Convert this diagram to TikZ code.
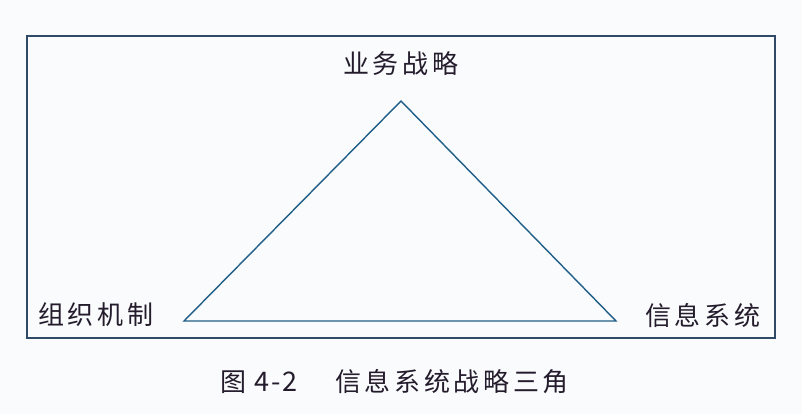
\documentclass[tikz,border=0pt]{standalone}
\usepackage{fontspec}
\newfontfamily\cjk[LetterSpace=14]{Noto Sans CJK SC}
\newfontfamily\cjknum[LetterSpace=8]{Noto Sans CJK SC}
\definecolor{bgc}{HTML}{FAFBFD}
\definecolor{boxc}{HTML}{2F4B68}
\definecolor{tric}{HTML}{1F5E86}
\definecolor{txtc}{HTML}{241C2C}
\begin{document}
\begin{tikzpicture}[x=1pt,y=-1pt,
  lbl/.style={font=\cjk\fontsize{26}{26}\selectfont, text=txtc, inner sep=0pt},
  captxt/.style={font=\cjk\fontsize{26}{26}\selectfont, text=txtc, inner sep=0pt}]
\fill[bgc] (0,0) rectangle (802,414);
\useasboundingbox (0,0) rectangle (802,414);
\draw[boxc, line width=1.4pt] (27,36) rectangle (775,338);
\coordinate (top) at (401,101);
\coordinate (lft) at (184,321);
\coordinate (rgt) at (616,321);
\draw[tric, line width=1.4pt, line join=miter] (top) -- (lft) -- (rgt) -- cycle;
\node[lbl, anchor=west] (biz) at (343,64) {业务战略};
\node[lbl, anchor=west] (org) at (38,315) {组织机制};
\node[lbl, anchor=west] (inf) at (645,316) {信息系统};
\node[captxt, anchor=west] (c1) at (220,382) {图\hspace{8pt}{\cjknum\fontsize{27}{27}\selectfont 4-2}};
\node[captxt, anchor=west] (c2) at (335,382) {信息系统战略三角};
\end{tikzpicture}
\end{document}
